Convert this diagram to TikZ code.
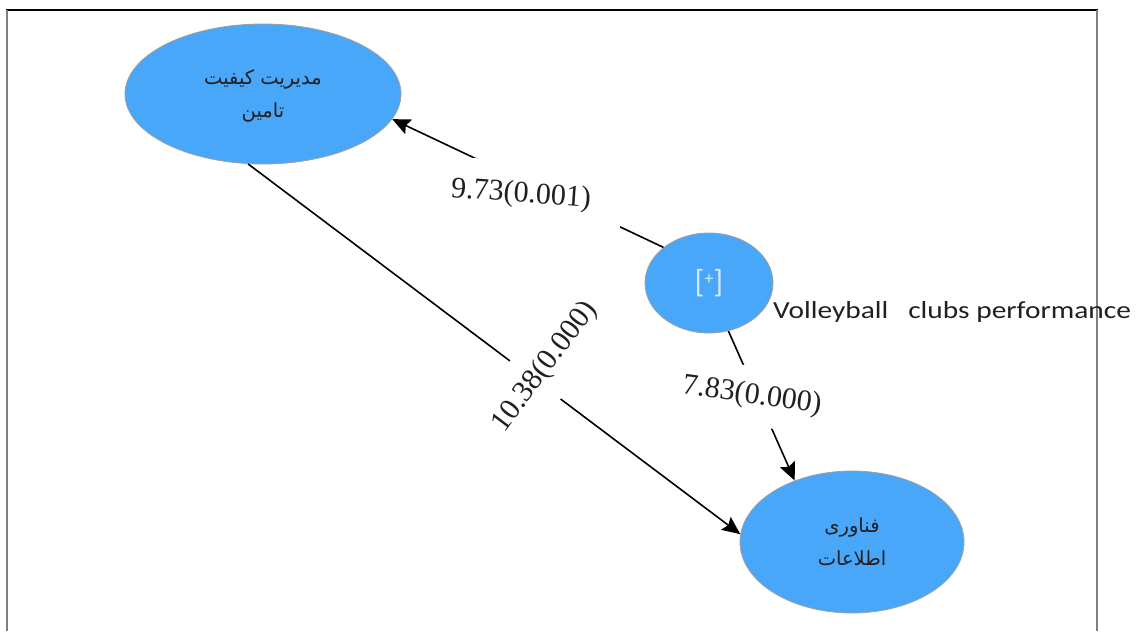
\documentclass[tikz,border=0pt]{standalone}
\usepackage{fontspec}
\usepackage{graphicx}
\setmainfont{Liberation Serif}
\newfontfamily\arabicfont[Script=Arabic]{DejaVu Sans}
\newfontfamily\calfont{Carlito}
\usetikzlibrary{shapes.geometric,arrows.meta}
\TeXXeTstate=1
\definecolor{nodeblue}{RGB}{72,167,248}
\definecolor{rimgray}{RGB}{160,160,160}
\definecolor{plusgray}{RGB}{215,232,252}
\definecolor{inkdark}{RGB}{35,31,32}
\begin{document}
\begin{tikzpicture}[x=1pt,y=-1pt,
  construct/.style={ellipse, fill=nodeblue, draw=rimgray, line width=0.8pt, inner sep=0pt},
  link/.style={draw=black, line width=1.6pt, -{Stealth[length=18pt,width=16pt,inset=3pt]}},
  coef/.style={fill=white, font=\fontsize{30}{30}\selectfont, text=inkdark, inner sep=0pt},
  pertext/.style={font=\arabicfont\fontsize{19.5}{33}\selectfont, text=inkdark}
]
\useasboundingbox (0,0) rectangle (1139,631);
\fill[white] (0,0) rectangle (1139,631);
% frame
\draw[black, line width=2pt] (6,10) -- (1098,10);
\draw[gray, line width=2.5pt] (7,10) -- (7,631);
\draw[gray, line width=2pt] (1097,10) -- (1097,631);
% constructs
\node[construct, pertext, minimum width=276, minimum height=140] (sqm) at (263,94)
  {\raisebox{7pt}{\begin{tabular}{@{}c@{}}\beginR مدیریت کیفیت\endR\\ \beginR تامین\endR\end{tabular}}};
\node[construct, minimum width=128, minimum height=100] (vcp) at (709,283)
  {\raisebox{-4pt}{\calfont\fontsize{32}{32}\selectfont\color{plusgray}[\raisebox{8pt}{\fontsize{18}{18}\selectfont +}]}};
\node[construct, pertext, minimum width=224, minimum height=142] (it) at (852,542)
  {\begin{tabular}{@{}c@{}}\beginR فناوری\endR\\ \beginR اطلاعات\endR\end{tabular}};
\node[anchor=base west, inner sep=0pt, text=inkdark] (vlab) at (773,318)
  {\calfont\fontsize{24.5}{24.5}\selectfont\scalebox{1.2}[1]{Volleyball\ \ \ clubs performance}};
% connectors
\draw[link] (vcp.142) -- (sqm.349);
\draw[link] (sqm.258) -- (it.176);
\draw[link] (vcp.292) -- (it.133);
% coefficients
\node[coef, rotate=-4, inner xsep=31pt, inner ysep=20pt] (c1) at (521,195) {9.73(0.001)};
\node[coef, rotate=53, inner xsep=4pt, inner ysep=18pt] (c3) at (545,367) {10.38(0.000)};
\node[coef, rotate=-8, inner xsep=4pt, inner ysep=16pt] (c2) at (752,396) {7.83(0.000)};
\end{tikzpicture}
\end{document}
